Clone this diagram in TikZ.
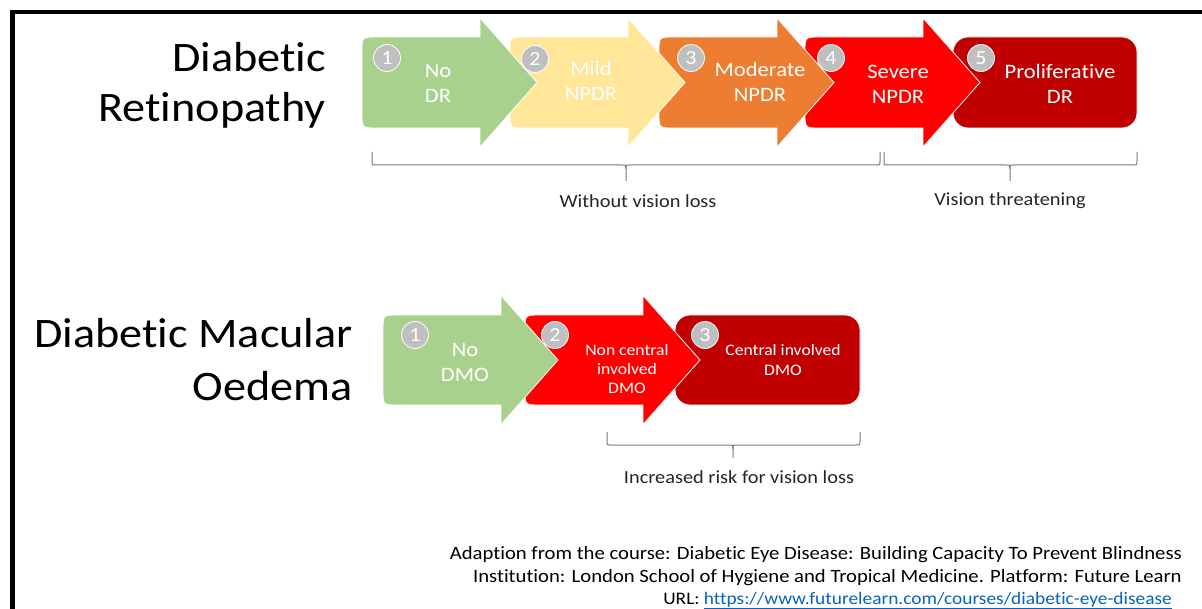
\documentclass[tikz,border=0pt]{standalone}
\usepackage{fontspec}
\setmainfont{Carlito}[FakeStretch=1.1, Ligatures=NoCommon]
% zero kern that keeps "t" and "i" as separate glyphs
\newcommand{\nolig}{\kern0pt }
\definecolor{stgreen}{HTML}{A9D18E}
\definecolor{styellow}{HTML}{FFE699}
\definecolor{storange}{HTML}{ED7D31}
\definecolor{stred}{HTML}{FF0000}
\definecolor{stdark}{HTML}{C00000}
\definecolor{dotgrey}{HTML}{BFBFBF}
\definecolor{bracegrey}{HTML}{7A7A7A}
\definecolor{linkblue}{HTML}{0563C1}
\definecolor{textgrey}{HTML}{262626}

% chevron-shaped stage: left x, top y, bottom y, colour
\newcommand{\stagearrow}[4]{%
  \filldraw[fill=#4, draw=white, line width=0.8pt]
    (#1+118,#2) -- (#1+15,#2) .. controls (#1,#2) .. (#1,#2+15)
    -- (#1,#3-15) .. controls (#1,#3) .. (#1+15,#3) -- (#1+118,#3)
    -- (#1+118,{(#2+#3)/2+64.5}) -- (#1+175,{(#2+#3)/2})
    -- (#1+118,{(#2+#3)/2-64.5}) -- cycle;}

% curly brace: left x, right x, tip x, top y, middle y, bottom y
\newcommand{\stagebrace}[6]{%
  \draw[bracegrey, line width=1pt]
    (#1,#4) -- (#1,#5-4) .. controls (#1,#5) .. (#1+4,#5)
    -- (#3-4,#5) .. controls (#3,#5) .. (#3,#5+4) -- (#3,#6);
  \draw[bracegrey, line width=1pt]
    (#3,#5+4) .. controls (#3,#5) .. (#3+4,#5)
    -- (#2-4,#5) .. controls (#2,#5) .. (#2,#5-4) -- (#2,#4);}

\tikzset{
  title/.style={anchor=base east, inner sep=0pt, text=black,
    font=\fontsize{42}{51}\selectfont},
  stagetext/.style={align=center, inner sep=0pt, text=white,
    font=\fontsize{20.5}{25}\selectfont},
  smalltext/.style={align=center, inner sep=0pt, text=white,
    font=\fontsize{16}{19.5}\selectfont},
  numdot/.style={circle, fill=dotgrey, draw=white, line width=0.8pt,
    minimum size=27pt, inner sep=0pt, text=white,
    font=\fontsize{20}{20}\selectfont},
  bracelabel/.style={inner sep=0pt, text=textgrey,
    font=\fontsize{18.5}{22}\selectfont},
  credit/.style={anchor=base east, inner sep=0pt, text=black,
    font=\fontsize{18.8}{22}\selectfont}
}

\begin{document}
\begin{tikzpicture}[x=1pt, y=-1pt]
\useasboundingbox (0,0) rectangle (1202,609);
\fill[white] (0,0) rectangle (1202,609);

% frame lines
\fill[black] (10,10) rectangle (1202,14.5);
\fill[black] (10,10) rectangle (14.5,609);

% ---- Diabetic Retinopathy ----
\node[title] (drt1) at (326,72) {Diabet\nolig ic};
\node[title] (drt2) at (326,122) {Retinopathy};

\fill[stdark, draw=white, line width=0.8pt, rounded corners=15pt]
  (953,37) rectangle (1137,128);
\stagearrow{805}{37}{128}{stred}
\stagearrow{659}{37}{128}{storange}
\stagearrow{510}{37}{128}{styellow}
\stagearrow{362}{37}{128}{stgreen}

\node[stagetext] (dr1) at (438,83) {No\\DR};
\node[stagetext] (dr2) at (591,81) {Mild\\NPDR};
\node[stagetext] (dr3) at (760,82) {Moderate\\NPDR};
\node[stagetext] (dr4) at (898,84) {Severe\\NPDR};
\node[stagetext] (dr5) at (1060,84) {Proliferat\nolig ive\\DR};

\node[numdot] (drn1) at (387,58) {1};
\node[numdot] (drn2) at (535,59) {2};
\node[numdot] (drn3) at (691,58) {3};
\node[numdot] (drn4) at (831,58) {4};
\node[numdot] (drn5) at (981,58) {5};

\stagebrace{372}{880}{626}{152}{165}{181}
\stagebrace{884}{1137}{1010}{152}{165}{181}
\node[bracelabel] (drb1) at (638,201) {Without vision loss};
\node[bracelabel] (drb2) at (1010,201) {Vision threatening};

% ---- Diabetic Macular Oedema ----
\node[title] (dmt1) at (353,348) {Diabet\nolig ic Macular};
\node[title] (dmt2) at (353,400) {Oedema};

\fill[stdark, draw=white, line width=0.8pt, rounded corners=15pt]
  (675,315) rectangle (860,405);
\stagearrow{525}{315}{405}{stred}
\stagearrow{383}{315}{405}{stgreen}

\node[stagetext] (dm1) at (465,362) {No\\DMO};
\node[smalltext] (dm2) at (627,369) {Non central\\involved\\DMO};
\node[smalltext] (dm3) at (783,360) {Central involved\\DMO};

\node[numdot] (dmn1) at (415,335) {1};
\node[numdot] (dmn2) at (555,335) {2};
\node[numdot] (dmn3) at (705,335) {3};

\stagebrace{607}{860}{733}{432}{445}{458}
\node[bracelabel] (dmb1) at (739,477) {Increased risk for vision loss};

% ---- source note ----
\node[credit] (cr1) at (1182,559) {Adapt\nolig ion from the course: Diabet\nolig ic Eye Disease: Building Capacity To Prevent Blindness};
\node[credit] (cr2) at (1182,582) {Inst\nolig itut\nolig ion: London School of Hygiene and Tropical Medicine. Platform: Future Learn};
\node[credit, font=\fontsize{17.6}{22}\selectfont] (cr3) at (1172,604)
  {URL: \textcolor{linkblue}{\underline{https://www.futurelearn.com/courses/diabetic-eye-disease}}};
\end{tikzpicture}
\end{document}
